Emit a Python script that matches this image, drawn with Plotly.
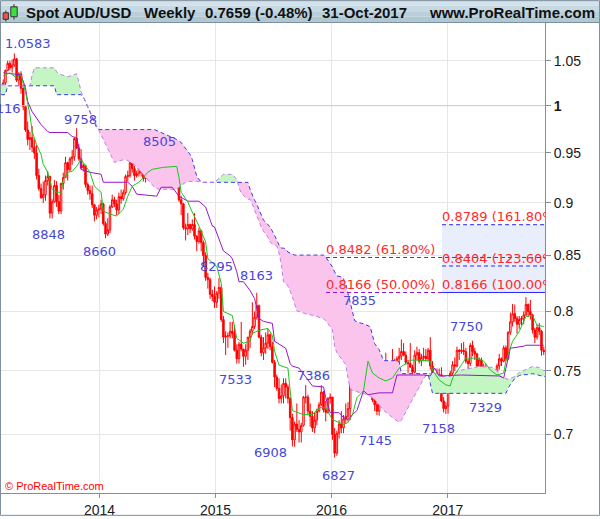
import numpy as np
import pandas as pd
import plotly.graph_objects as go

# ---- weekly AUD/USD bars, week of 4-Mar-2013 up to week of 30-Oct-2017
bar_open = [
    # 2013
    1.0205, 1.0250, 1.0390, 1.0470, 1.0420, 1.0450, 1.0520, 1.0280, 1.0350, 1.0190, 0.9990, 0.9740, 0.9640,
    0.9660, 0.9560, 0.9500, 0.9270, 0.9140, 0.9050, 0.9080, 0.9220, 0.9260, 0.8900, 0.9010, 0.9170, 0.9010,
    0.8920, 0.9190, 0.9250, 0.9400, 0.9330, 0.9440, 0.9460, 0.9650, 0.9550, 0.9440, 0.9350, 0.9370, 0.9180,
    0.9120, 0.9090, 0.8980, 0.8880, 0.8930,
    # 2014
    0.8940, 0.8990, 0.8800, 0.8700, 0.8740, 0.8960, 0.9030, 0.8990, 0.8930, 0.9060, 0.9040, 0.9100, 0.9260,
    0.9270, 0.9400, 0.9340, 0.9270, 0.9290, 0.9350, 0.9300, 0.9240, 0.9290, 0.9320, 0.9400, 0.9420, 0.9430,
    0.9360, 0.9400, 0.9390, 0.9410, 0.9300, 0.9290, 0.9330, 0.9290, 0.9340, 0.9370, 0.9030, 0.8990, 0.8760,
    0.8750, 0.8790, 0.8750, 0.8790, 0.8680, 0.8630, 0.8730, 0.8620, 0.8500, 0.8300, 0.8280, 0.8150, 0.8130,
    # 2015
    0.8080, 0.8160, 0.8210, 0.7930, 0.7780, 0.7790, 0.7790, 0.7830, 0.7810, 0.7670, 0.7600, 0.7720, 0.7680,
    0.7620, 0.7670, 0.7780, 0.7830, 0.7870, 0.7950, 0.8050, 0.7780, 0.7650, 0.7690, 0.7730, 0.7800, 0.7700,
    0.7570, 0.7450, 0.7360, 0.7280, 0.7300, 0.7400, 0.7370, 0.7280, 0.7130, 0.6960, 0.7080, 0.7040, 0.7020,
    0.7070, 0.7290, 0.7290, 0.7180, 0.7140, 0.7050, 0.7110, 0.7180, 0.7230, 0.7330, 0.7190, 0.7170, 0.7280,
    # 2016
    0.7290, 0.7000, 0.6860, 0.7010, 0.7080, 0.7050, 0.7120, 0.7140, 0.7200, 0.7430, 0.7520, 0.7640, 0.7510,
    0.7620, 0.7570, 0.7680, 0.7720, 0.7600, 0.7400, 0.7270, 0.7230, 0.7180, 0.7350, 0.7380, 0.7420, 0.7350,
    0.7500, 0.7550, 0.7580, 0.7450, 0.7600, 0.7620, 0.7660, 0.7630, 0.7570, 0.7560, 0.7530, 0.7490, 0.7630,
    0.7650, 0.7580, 0.7610, 0.7620, 0.7600, 0.7670, 0.7540, 0.7380, 0.7430, 0.7450, 0.7470, 0.7260, 0.7200,
    # 2017
    0.7220, 0.7330, 0.7480, 0.7550, 0.7540, 0.7670, 0.7660, 0.7670, 0.7660, 0.7580, 0.7560, 0.7710, 0.7660,
    0.7640, 0.7540, 0.7590, 0.7530, 0.7470, 0.7390, 0.7380, 0.7460, 0.7450, 0.7450, 0.7540, 0.7600, 0.7580,
    0.7690, 0.7600, 0.7820, 0.7910, 0.7980, 0.7940, 0.7890, 0.7930, 0.7940, 0.7970, 0.8060, 0.8000, 0.7970,
    0.7840, 0.7780, 0.7860, 0.7830, 0.7670,
]
bar_high = [
    # 2013
    1.0290, 1.0400, 1.0500, 1.0500, 1.0515, 1.0583, 1.0530, 1.0370, 1.0380, 1.0200, 1.0000, 0.9830, 0.9720,
    0.9780, 0.9640, 0.9580, 0.9340, 0.9190, 0.9210, 0.9270, 0.9315, 0.9270, 0.9035, 0.9225, 0.9215, 0.9080,
    0.9200, 0.9300, 0.9460, 0.9410, 0.9460, 0.9530, 0.9660, 0.9758, 0.9590, 0.9540, 0.9390, 0.9380, 0.9200,
    0.9170, 0.9170, 0.8990, 0.8960, 0.8980,
    # 2014
    0.9030, 0.9000, 0.8820, 0.8850, 0.8980, 0.9080, 0.9060, 0.9030, 0.9100, 0.9130, 0.9130, 0.9280, 0.9320,
    0.9460, 0.9420, 0.9370, 0.9320, 0.9380, 0.9400, 0.9320, 0.9310, 0.9350, 0.9440, 0.9460, 0.9460, 0.9505,
    0.9440, 0.9420, 0.9450, 0.9410, 0.9330, 0.9370, 0.9340, 0.9360, 0.9400, 0.9380, 0.9070, 0.9000, 0.8800,
    0.8900, 0.8800, 0.8840, 0.8900, 0.8690, 0.8760, 0.8740, 0.8640, 0.8530, 0.8340, 0.8300, 0.8190, 0.8220,
    # 2015
    0.8180, 0.8295, 0.8230, 0.7960, 0.7830, 0.7820, 0.7910, 0.7910, 0.7880, 0.7720, 0.7740, 0.7910, 0.7680,
    0.7720, 0.7780, 0.7850, 0.8080, 0.8000, 0.8163, 0.8060, 0.7800, 0.7780, 0.7820, 0.7850, 0.7810, 0.7740,
    0.7590, 0.7470, 0.7440, 0.7390, 0.7440, 0.7440, 0.7390, 0.7290, 0.7160, 0.7100, 0.7240, 0.7110, 0.7090,
    0.7300, 0.7386, 0.7310, 0.7240, 0.7180, 0.7170, 0.7200, 0.7250, 0.7385, 0.7340, 0.7260, 0.7290, 0.7320,
    # 2016
    0.7290, 0.7050, 0.7030, 0.7110, 0.7180, 0.7150, 0.7240, 0.7250, 0.7450, 0.7560, 0.7680, 0.7680, 0.7720,
    0.7680, 0.7720, 0.7835, 0.7730, 0.7650, 0.7410, 0.7310, 0.7260, 0.7370, 0.7500, 0.7440, 0.7650, 0.7510,
    0.7560, 0.7680, 0.7600, 0.7620, 0.7690, 0.7760, 0.7730, 0.7660, 0.7590, 0.7730, 0.7550, 0.7670, 0.7700,
    0.7680, 0.7640, 0.7690, 0.7680, 0.7690, 0.7780, 0.7580, 0.7480, 0.7520, 0.7520, 0.7530, 0.7290, 0.7250,
    # 2017
    0.7350, 0.7500, 0.7580, 0.7610, 0.7700, 0.7680, 0.7730, 0.7740, 0.7690, 0.7600, 0.7730, 0.7750, 0.7690,
    0.7650, 0.7610, 0.7610, 0.7560, 0.7560, 0.7420, 0.7470, 0.7520, 0.7480, 0.7560, 0.7640, 0.7610, 0.7710,
    0.7710, 0.7830, 0.7990, 0.8065, 0.8060, 0.7960, 0.7960, 0.7960, 0.8000, 0.8125, 0.8070, 0.8100, 0.7980,
    0.7860, 0.7890, 0.7900, 0.7840, 0.7700,
]
bar_low = [
    # 2013
    1.0116, 1.0220, 1.0380, 1.0390, 1.0365, 1.0430, 1.0260, 1.0220, 1.0130, 0.9950, 0.9720, 0.9580, 0.9530,
    0.9510, 0.9440, 0.9230, 0.9120, 0.9040, 0.8998, 0.9020, 0.9170, 0.8850, 0.8848, 0.9000, 0.8960, 0.8890,
    0.8890, 0.9130, 0.9250, 0.9220, 0.9310, 0.9380, 0.9420, 0.9540, 0.9420, 0.9330, 0.9310, 0.9150, 0.9080,
    0.9030, 0.8950, 0.8820, 0.8840, 0.8860,
    # 2014
    0.8890, 0.8780, 0.8660, 0.8680, 0.8710, 0.8950, 0.8960, 0.8880, 0.8890, 0.8990, 0.9020, 0.9080, 0.9210,
    0.9250, 0.9300, 0.9220, 0.9250, 0.9260, 0.9260, 0.9210, 0.9200, 0.9250, 0.9310, 0.9330, 0.9340, 0.9350,
    0.9320, 0.9320, 0.9350, 0.9280, 0.9240, 0.9280, 0.9260, 0.9280, 0.9290, 0.9010, 0.8880, 0.8740, 0.8640,
    0.8690, 0.8710, 0.8730, 0.8650, 0.8540, 0.8610, 0.8540, 0.8400, 0.8270, 0.8200, 0.8110, 0.8090, 0.8030,
    # 2015
    0.8030, 0.8110, 0.7910, 0.7730, 0.7630, 0.7690, 0.7770, 0.7770, 0.7660, 0.7560, 0.7560, 0.7660, 0.7533,
    0.7550, 0.7590, 0.7690, 0.7800, 0.7850, 0.7930, 0.7770, 0.7620, 0.7590, 0.7640, 0.7680, 0.7670, 0.7560,
    0.7370, 0.7340, 0.7240, 0.7240, 0.7240, 0.7280, 0.7240, 0.7030, 0.6910, 0.6908, 0.7020, 0.6940, 0.6940,
    0.7060, 0.7240, 0.7150, 0.7060, 0.7020, 0.7010, 0.7070, 0.7170, 0.7220, 0.7170, 0.7100, 0.7160, 0.7240,
    # 2016
    0.6960, 0.6827, 0.6840, 0.6970, 0.7010, 0.7010, 0.7090, 0.7100, 0.7110, 0.7390, 0.7400, 0.7480, 0.7490,
    0.7490, 0.7550, 0.7670, 0.7510, 0.7380, 0.7250, 0.7180, 0.7150, 0.7145, 0.7330, 0.7300, 0.7320, 0.7290,
    0.7450, 0.7530, 0.7440, 0.7440, 0.7550, 0.7590, 0.7620, 0.7550, 0.7480, 0.7530, 0.7440, 0.7480, 0.7590,
    0.7560, 0.7540, 0.7580, 0.7580, 0.7580, 0.7510, 0.7370, 0.7360, 0.7340, 0.7400, 0.7250, 0.7170, 0.7158,
    # 2017
    0.7160, 0.7320, 0.7460, 0.7500, 0.7530, 0.7590, 0.7640, 0.7630, 0.7560, 0.7490, 0.7540, 0.7620, 0.7590,
    0.7520, 0.7490, 0.7490, 0.7450, 0.7380, 0.7329, 0.7370, 0.7420, 0.7370, 0.7440, 0.7510, 0.7540, 0.7570,
    0.7580, 0.7590, 0.7800, 0.7870, 0.7910, 0.7810, 0.7850, 0.7880, 0.7890, 0.7960, 0.7950, 0.7930, 0.7810,
    0.7730, 0.7760, 0.7800, 0.7625, 0.7630,
]
bar_close = [
    # 2013
    1.0250, 1.0390, 1.0470, 1.0420, 1.0450, 1.0520, 1.0280, 1.0350, 1.0190, 0.9990, 0.9740, 0.9640, 0.9660,
    0.9560, 0.9500, 0.9270, 0.9140, 0.9050, 0.9080, 0.9220, 0.9260, 0.8900, 0.9010, 0.9170, 0.9010, 0.8920,
    0.9190, 0.9250, 0.9400, 0.9330, 0.9440, 0.9460, 0.9650, 0.9550, 0.9440, 0.9350, 0.9370, 0.9180, 0.9120,
    0.9090, 0.8980, 0.8880, 0.8930, 0.8940,
    # 2014
    0.8990, 0.8800, 0.8700, 0.8740, 0.8960, 0.9030, 0.8990, 0.8930, 0.9060, 0.9040, 0.9100, 0.9260, 0.9270,
    0.9400, 0.9340, 0.9270, 0.9290, 0.9350, 0.9300, 0.9240, 0.9290, 0.9320, 0.9400, 0.9420, 0.9430, 0.9360,
    0.9400, 0.9390, 0.9410, 0.9300, 0.9290, 0.9330, 0.9290, 0.9340, 0.9370, 0.9030, 0.8990, 0.8760, 0.8750,
    0.8790, 0.8750, 0.8790, 0.8680, 0.8630, 0.8730, 0.8620, 0.8500, 0.8300, 0.8280, 0.8150, 0.8130, 0.8080,
    # 2015
    0.8160, 0.8210, 0.7930, 0.7780, 0.7790, 0.7790, 0.7830, 0.7810, 0.7670, 0.7600, 0.7720, 0.7680, 0.7620,
    0.7670, 0.7780, 0.7830, 0.7870, 0.7950, 0.8050, 0.7780, 0.7650, 0.7690, 0.7730, 0.7800, 0.7700, 0.7570,
    0.7450, 0.7360, 0.7280, 0.7300, 0.7400, 0.7370, 0.7280, 0.7130, 0.6960, 0.7080, 0.7040, 0.7020, 0.7070,
    0.7290, 0.7290, 0.7180, 0.7140, 0.7050, 0.7110, 0.7180, 0.7230, 0.7330, 0.7190, 0.7170, 0.7280, 0.7290,
    # 2016
    0.7000, 0.6860, 0.7010, 0.7080, 0.7050, 0.7120, 0.7140, 0.7200, 0.7430, 0.7520, 0.7640, 0.7510, 0.7620,
    0.7570, 0.7680, 0.7720, 0.7600, 0.7400, 0.7270, 0.7230, 0.7180, 0.7350, 0.7380, 0.7420, 0.7350, 0.7500,
    0.7550, 0.7580, 0.7450, 0.7600, 0.7620, 0.7660, 0.7630, 0.7570, 0.7560, 0.7530, 0.7490, 0.7630, 0.7650,
    0.7580, 0.7610, 0.7620, 0.7600, 0.7670, 0.7540, 0.7380, 0.7430, 0.7450, 0.7470, 0.7260, 0.7200, 0.7220,
    # 2017
    0.7330, 0.7480, 0.7550, 0.7540, 0.7670, 0.7660, 0.7670, 0.7660, 0.7580, 0.7560, 0.7710, 0.7660, 0.7640,
    0.7540, 0.7590, 0.7530, 0.7470, 0.7390, 0.7380, 0.7460, 0.7450, 0.7450, 0.7540, 0.7600, 0.7580, 0.7690,
    0.7600, 0.7820, 0.7910, 0.7980, 0.7940, 0.7890, 0.7930, 0.7940, 0.7970, 0.8060, 0.8000, 0.7970, 0.7840,
    0.7780, 0.7860, 0.7830, 0.7670, 0.7659,
]

# ---- indicator lines, keyed by week number (0 = week of 4-Mar-2013)
tenkan_wk = [0, 3, 6, 8, 10, 12, 13, 15, 17, 18, 20, 22, 24, 26, 27, 29, 31, 33, 35, 36, 39, 41, 44, 45,
             48, 51, 54, 56, 58, 61, 65, 67, 72, 78, 79, 80, 83, 85, 88, 91, 92, 96, 98, 99, 103, 105, 108,
             111, 112, 115, 119, 121, 122, 124, 128, 129, 130, 135, 139, 142, 145, 148, 153, 155, 157, 159,
             162, 164, 166, 169, 172, 175, 178, 183, 187, 192, 193, 196, 199, 201, 202, 205, 208, 213, 216,
             219, 222, 225, 226, 229, 232, 235, 238, 240, 243]
tenkan = [1.0329, 1.0363, 1.0307, 1.0340, 1.0152, 0.9903, 0.9723, 0.9588, 0.9485, 0.9383, 0.9303, 0.9134,
          0.9104, 0.9104, 0.9232, 0.9303, 0.9313, 0.9363, 0.9434, 0.9403, 0.9303, 0.9163, 0.9104, 0.8919,
          0.8891, 0.8872, 0.8939, 0.9065, 0.9163, 0.9203, 0.9303, 0.9333, 0.9353, 0.9363, 0.9252, 0.9104,
          0.9007, 0.8910, 0.8776, 0.8626, 0.8470, 0.8400, 0.8250, 0.7999, 0.7965, 0.7770, 0.7729, 0.7745,
          0.7812, 0.7837, 0.7854, 0.7795, 0.7662, 0.7547, 0.7523, 0.7340, 0.7184, 0.7153, 0.7153, 0.7207,
          0.7207, 0.7114, 0.7077, 0.7092, 0.7153, 0.7285, 0.7340, 0.7580, 0.7483, 0.7443, 0.7419, 0.7443,
          0.7523, 0.7588, 0.7588, 0.7580, 0.7507, 0.7427, 0.7387, 0.7379, 0.7443, 0.7523, 0.7605, 0.7605,
          0.7580, 0.7507, 0.7467, 0.7483, 0.7580, 0.7745, 0.7829, 0.7956, 0.7965, 0.7880, 0.7871]

kijun_wk = [0, 8, 10, 11, 13, 15, 17, 20, 21, 29, 31, 33, 34, 35, 39, 44, 45, 56, 58, 60, 69, 71, 76, 79,
            83, 88, 91, 94, 95, 97, 99, 102, 103, 105, 106, 108, 111, 113, 115, 117, 121, 122, 127, 129,
            130, 133, 139, 144, 145, 147, 151, 153, 155, 157, 159, 162, 164, 169, 175, 177, 189, 192, 194,
            196, 206, 223, 225, 226, 228, 234, 235, 243]
kijun = [1.0363, 1.0340, 1.0196, 1.0043, 0.9935, 0.9871, 0.9797, 0.9723, 0.9713, 0.9713, 0.9671, 0.9660,
         0.9556, 0.9333, 0.9303, 0.9283, 0.9203, 0.9203, 0.9163, 0.9085, 0.9065, 0.9153, 0.9153, 0.9065,
         0.9016, 0.9016, 0.8958, 0.8776, 0.8767, 0.8654, 0.8543, 0.8497, 0.8470, 0.8352, 0.8262, 0.8262,
         0.8183, 0.8113, 0.7939, 0.7914, 0.7897, 0.7745, 0.7687, 0.7560, 0.7539, 0.7523, 0.7379, 0.7371,
         0.7285, 0.7168, 0.7168, 0.7130, 0.7114, 0.7153, 0.7184, 0.7340, 0.7309, 0.7324, 0.7324, 0.7467,
         0.7467, 0.7459, 0.7523, 0.7459, 0.7467, 0.7459, 0.7443, 0.7523, 0.7687, 0.7704, 0.7712, 0.7712]

# ---- Ichimoku cloud (as drawn, already shifted forward)
cloud_wk = [-1, 1, 2, 12, 13, 14, 18, 23, 24, 25, 29, 33, 34, 35, 36, 39, 42, 43, 45, 47, 49, 50, 53, 55,
            59, 64, 68, 70, 75, 78, 80, 82, 84, 85, 86, 87, 89, 95, 97, 99, 103, 105, 106, 107, 110, 111,
            112, 113, 114, 115, 116, 117, 118, 119, 120, 121, 122, 123, 124, 125, 126, 127, 128, 130, 131,
            132, 136, 140, 144, 145, 148, 149, 150, 152, 153, 154, 155, 156, 157, 158, 160, 162, 165, 167,
            169, 171, 176, 178, 179, 181, 184, 187, 189, 191, 192, 193, 195, 197, 201, 205, 209, 214, 220,
            222, 223, 226, 227, 228, 230, 232, 234, 236, 238, 241, 243, 244]
span_a = [1.0229, 1.0229, 1.0218, 1.0218, 1.0340, 1.0419, 1.0419, 1.0419, 1.0374, 1.0352, 1.0318, 1.0352,
          1.0263, 1.0152, 1.0098, 0.9935, 0.9776, 0.9734, 0.9640, 0.9546, 0.9454, 0.9403, 0.9424, 0.9434,
          0.9383, 0.9252, 0.9153, 0.9133, 0.9133, 0.9133, 0.9172, 0.9202, 0.9212, 0.9212, 0.9212, 0.9212,
          0.9202, 0.9202, 0.9242, 0.9282, 0.9282, 0.9232, 0.9153, 0.9093, 0.9035, 0.9035, 0.8986, 0.8928,
          0.8880, 0.8832, 0.8766, 0.8728, 0.8700, 0.8671, 0.8625, 0.8606, 0.8597, 0.8588, 0.8523, 0.8422,
          0.8260, 0.8242, 0.8225, 0.8128, 0.8075, 0.8005, 0.7980, 0.7962, 0.7937, 0.7920, 0.7843, 0.7700,
          0.7650, 0.7601, 0.7576, 0.7552, 0.7439, 0.7360, 0.7343, 0.7336, 0.7328, 0.7320, 0.7296, 0.7272,
          0.7233, 0.7186, 0.7117, 0.7094, 0.7110, 0.7179, 0.7272, 0.7367, 0.7439, 0.7478, 0.7478, 0.7487,
          0.7478, 0.7455, 0.7455, 0.7503, 0.7519, 0.7536, 0.7528, 0.7503, 0.7463, 0.7439, 0.7431, 0.7439,
          0.7455, 0.7487, 0.7503, 0.7519, 0.7536, 0.7528, 0.7503, 0.7503]
span_b = [1.0120, 1.0120, 1.0218, 1.0218, 1.0218, 1.0218, 1.0218, 1.0218, 1.0120, 1.0120, 1.0120, 1.0120,
          1.0120, 1.0120, 1.0098, 0.9935, 0.9765, 0.9744, 0.9744, 0.9744, 0.9744, 0.9744, 0.9744, 0.9744,
          0.9744, 0.9744, 0.9744, 0.9723, 0.9671, 0.9640, 0.9608, 0.9546, 0.9485, 0.9434, 0.9332, 0.9262,
          0.9202, 0.9202, 0.9202, 0.9202, 0.9202, 0.9202, 0.9202, 0.9202, 0.9202, 0.9133, 0.9074, 0.9026,
          0.8986, 0.8928, 0.8880, 0.8832, 0.8813, 0.8794, 0.8766, 0.8728, 0.8691, 0.8643, 0.8597, 0.8569,
          0.8569, 0.8560, 0.8532, 0.8514, 0.8504, 0.8504, 0.8504, 0.8504, 0.8504, 0.8486, 0.8395, 0.8350,
          0.8314, 0.8306, 0.8287, 0.8242, 0.8154, 0.8066, 0.7997, 0.7920, 0.7903, 0.7894, 0.7868, 0.7725,
          0.7675, 0.7584, 0.7584, 0.7576, 0.7478, 0.7478, 0.7478, 0.7478, 0.7478, 0.7478, 0.7399, 0.7320,
          0.7320, 0.7320, 0.7320, 0.7320, 0.7320, 0.7320, 0.7320, 0.7320, 0.7320, 0.7320, 0.7360, 0.7391,
          0.7439, 0.7463, 0.7470, 0.7470, 0.7478, 0.7463, 0.7455, 0.7455]

# ---- Fibonacci retracement / projection
fib_level = [0.8166, 0.8482, 0.8166, 0.8404, 0.8789]
fib_text = ["0.8166 (50.00%)", "0.8482 (61.80%)", "0.8166 (100.00%)", "0.8404 (123.60%)", "0.8789 (161.80%)"]
fib_start = ["2015-12-15", "2015-12-15", "2016-12-14", "2016-12-14", "2016-12-14"]

# ---- swing high / low labels
swing_text = ["1.0583", "1.0116", "9758", "8848", "8660", "8505", "8295", "8163", "7533", "6908",
              "7386", "6827", "7835", "7145", "7158", "7750", "7329"]
swing_date = ["2013-04-08", "2013-03-04", "2013-10-21", "2013-08-05", "2014-01-20", "2014-06-30",
              "2015-01-12", "2015-05-11", "2015-03-30", "2015-09-07", "2015-10-12", "2016-01-11",
              "2016-04-18", "2016-05-30", "2016-12-26", "2017-03-20", "2017-05-08"]
swing_price = [1.0583, 1.0116, 0.9758, 0.8848, 0.8660, 0.9505, 0.8295, 0.8163, 0.7533, 0.6908,
               0.7386, 0.6827, 0.7835, 0.7145, 0.7158, 0.7750, 0.7329]
# label offset from its swing bar, in pixels
swing_shift = [(14, 10), (-5, -13), (4, 9), (-4, -16), (-6, -13), (3, 11), (-2, 12), (0, 17), (-8, -13),
               (-24, -6), (8, 10), (4, -18), (-6, 30), (-4, -25), (-7, -15), (-6, 14), (-3, -15)]

year_ticks = ["2014-01-01", "2015-01-01", "2016-01-01", "2017-01-01"]
year_text = ["2014", "2015", "2016", "2017"]
price_ticks = [0.7, 0.75, 0.8, 0.85, 0.9, 0.95, 1, 1.05]
price_text = ["0.7", "0.75", "0.8", "0.85", "0.9", "0.95", "<b>1</b>", "1.05"]

X_RANGE = ["2013-02-25", "2017-11-03"]
X_END = "2017-11-10"

# figure / plot area in pixels
W, H = 600, 519
L, R, T, B = 1, 545, 23, 496


def px(x):
    return (x - L) / (R - L)


def py(y):
    return (B - y) / (B - T)


weeks = pd.date_range("2013-03-04", periods=len(bar_close), freq="7D")


def wk_dates(idx):
    return weeks[0] + pd.to_timedelta(np.array(idx) * 7, unit="D")


BLUE = "#3c3ce6"
VIOLET = "#c27cf0"
PURPLE = "#8a10d0"
RED = "#ff0000"
LABEL_BLUE = "#4646d8"
FIB_RED = "#ff2a2a"

fig = go.Figure()

# darker grid line at 1
fig.add_trace(go.Scatter(x=X_RANGE, y=[1, 1], mode="lines", line=dict(color="#cccccc", width=1),
                         hoverinfo="skip"))

# cloud fills: green where span A above span B, pink where below
cx = wk_dates(cloud_wk)
a = np.array(span_a)
b = np.array(span_b)
fig.add_trace(go.Scatter(x=cx, y=b, mode="lines", line=dict(width=0), hoverinfo="skip"))
fig.add_trace(go.Scatter(x=cx, y=np.maximum(a, b), mode="lines", line=dict(width=0), fill="tonexty",
                         fillcolor="#c4f6c4", hoverinfo="skip"))
fig.add_trace(go.Scatter(x=cx, y=b, mode="lines", line=dict(width=0), hoverinfo="skip"))
fig.add_trace(go.Scatter(x=cx, y=np.minimum(a, b), mode="lines", line=dict(width=0), fill="tonexty",
                         fillcolor="#fac4ec", hoverinfo="skip"))

# projection zone
zs = fib_start[2]
fig.add_trace(go.Scatter(x=[zs, X_END, X_END, zs, zs],
                         y=[fib_level[2], fib_level[2], fib_level[4], fib_level[4], fib_level[2]],
                         mode="lines", line=dict(width=0), fill="toself", fillcolor="#e8eefc",
                         hoverinfo="skip"))

# cloud borders
fig.add_trace(go.Scatter(x=cx, y=span_b, mode="lines", line=dict(color=BLUE, width=1, dash="4px,3px"),
                         hoverinfo="skip"))
fig.add_trace(go.Scatter(x=cx, y=span_a, mode="lines", line=dict(color=VIOLET, width=1, dash="4px,3px"),
                         hoverinfo="skip"))

# fib lines
fig.add_trace(go.Scatter(x=[fib_start[1], X_END], y=[fib_level[1]] * 2, mode="lines",
                         line=dict(color=PURPLE, width=1, dash="4px,3px"), hoverinfo="skip"))
fig.add_trace(go.Scatter(x=[fib_start[0], fib_start[2]], y=[fib_level[0]] * 2, mode="lines",
                         line=dict(color=PURPLE, width=1, dash="4px,3px"), hoverinfo="skip"))
fig.add_trace(go.Scatter(x=[fib_start[2], X_END], y=[fib_level[2]] * 2, mode="lines",
                         line=dict(color="#2828ff", width=1), hoverinfo="skip"))
for lv in fib_level[3:]:
    fig.add_trace(go.Scatter(x=[fib_start[2], X_END], y=[lv, lv], mode="lines",
                             line=dict(color="#2828ff", width=1, dash="4px,3px"), hoverinfo="skip"))

# price bars
fig.add_trace(go.Candlestick(
    x=weeks, open=bar_open, high=bar_high, low=bar_low, close=bar_close,
    increasing=dict(line=dict(color=RED, width=1), fillcolor="#ffffff"),
    decreasing=dict(line=dict(color=RED, width=1), fillcolor=RED),
    whiskerwidth=0, hoverinfo="skip",
))

fig.add_trace(go.Scatter(x=wk_dates(kijun_wk), y=kijun, mode="lines", line=dict(color="#9a14cc", width=1),
                         hoverinfo="skip"))
fig.add_trace(go.Scatter(x=wk_dates(tenkan_wk), y=tenkan, mode="lines", line=dict(color="#1ec41e", width=1),
                         hoverinfo="skip"))

# fib labels, clipped at the plot edge like the original
fig.add_trace(go.Scatter(x=fib_start, y=fib_level, text=fib_text, mode="text", textposition="top right",
                         textfont=dict(family="DejaVu Sans", size=13, color=FIB_RED), cliponaxis=True,
                         hoverinfo="skip"))

annotations = []
for txt, d, p, (dx, dy) in zip(swing_text, swing_date, swing_price, swing_shift):
    annotations.append(dict(x=d, y=np.log10(p), xref="x", yref="y", text=txt, showarrow=False,
                            xshift=dx, yshift=dy, xanchor="center", yanchor="middle",
                            font=dict(family="DejaVu Sans", size=13, color=LABEL_BLUE)))

# header bar
title_font = dict(family="Liberation Sans, Arial", size=15, color="#111111", weight="bold")
for txt, x0 in [("Spot AUD/USD", 24), ("Weekly", 142), ("0.7659 (-0.48%)", 203), ("31-Oct-2017", 320)]:
    annotations.append(dict(x=px(x0), y=py(12), xref="paper", yref="paper", text=txt, showarrow=False,
                            xanchor="left", yanchor="middle", font=title_font))
annotations.append(dict(x=px(597), y=py(12), xref="paper", yref="paper", text="www.ProRealTime.com",
                        showarrow=False, xanchor="right", yanchor="middle", font=title_font))
annotations.append(dict(x=px(3), y=py(489), xref="paper", yref="paper", text="© ProRealTime.com",
                        showarrow=False, xanchor="left", yanchor="middle",
                        font=dict(family="Liberation Sans, Arial", size=11, color="#ff0000")))

shapes = []
bands = ["#d3e2ea", "#c6d9e3", "#bacfdb", "#b0c7d4"]
for k, col in enumerate(bands):
    shapes.append(dict(type="rect", xref="paper", yref="paper", x0=px(0), x1=px(600),
                       y0=py(5.6 * (k + 1)), y1=py(5.6 * k), fillcolor=col, line=dict(width=0), layer="below"))
shapes.append(dict(type="line", xref="paper", yref="paper", x0=px(0), x1=px(600), y0=py(22.5), y1=py(22.5),
                   line=dict(color="#7d909c", width=1)))
# small candle icon
shapes.append(dict(type="line", xref="paper", yref="paper", x0=px(5.8), x1=px(5.8), y0=py(21.5), y1=py(10.5),
                   line=dict(color="#333333", width=1)))
shapes.append(dict(type="rect", xref="paper", yref="paper", x0=px(3.2), x1=px(8.4), y0=py(19.3), y1=py(12.7),
                   fillcolor="#f05050", line=dict(color="#333333", width=1)))
shapes.append(dict(type="line", xref="paper", yref="paper", x0=px(14), x1=px(14), y0=py(19.5), y1=py(4),
                   line=dict(color="#333333", width=1)))
shapes.append(dict(type="rect", xref="paper", yref="paper", x0=px(10.8), x1=px(17.2), y0=py(16.7), y1=py(6.7),
                   fillcolor="#3ee03e", line=dict(color="#333333", width=1)))
# outer frame
shapes.append(dict(type="rect", xref="paper", yref="paper", x0=px(0.5), x1=px(599.5), y0=py(518.5),
                   y1=py(0.5), line=dict(color="#7d909c", width=1)))

axis_font = dict(family="Liberation Sans, Arial", size=14, color="#1a1a1a")
fig.update_layout(
    width=W, height=H,
    margin=dict(l=L, r=W - R, t=T, b=H - B),
    paper_bgcolor="white", plot_bgcolor="white",
    showlegend=False, hovermode=False,
    boxgap=0.05,
    annotations=annotations, shapes=shapes,
    xaxis=dict(type="date", range=X_RANGE, tickvals=year_ticks, ticktext=year_text, tickfont=axis_font,
               showgrid=True, gridcolor="#e6e6e6", gridwidth=1, zeroline=False,
               ticks="outside", ticklen=4, tickcolor="#7d909c",
               showline=True, linecolor="#7d909c", linewidth=1, rangeslider=dict(visible=False),
               fixedrange=True),
    yaxis=dict(type="log", side="right", range=[np.log10(0.657), np.log10(1.0938)],
               tickvals=price_ticks, ticktext=price_text, tickfont=axis_font,
               showgrid=True, gridcolor="#e6e6e6", gridwidth=1, zeroline=False,
               ticks="outside", ticklen=5, tickcolor="#7d909c",
               showline=True, linecolor="#7d909c", linewidth=1, fixedrange=True),
)

# the page's default 8px body margin would push the chart off its 600x519 frame
fig.write_html("out.html", config=dict(displayModeBar=False),
               post_script="document.body.style.margin='0';document.body.style.overflow='hidden';")
